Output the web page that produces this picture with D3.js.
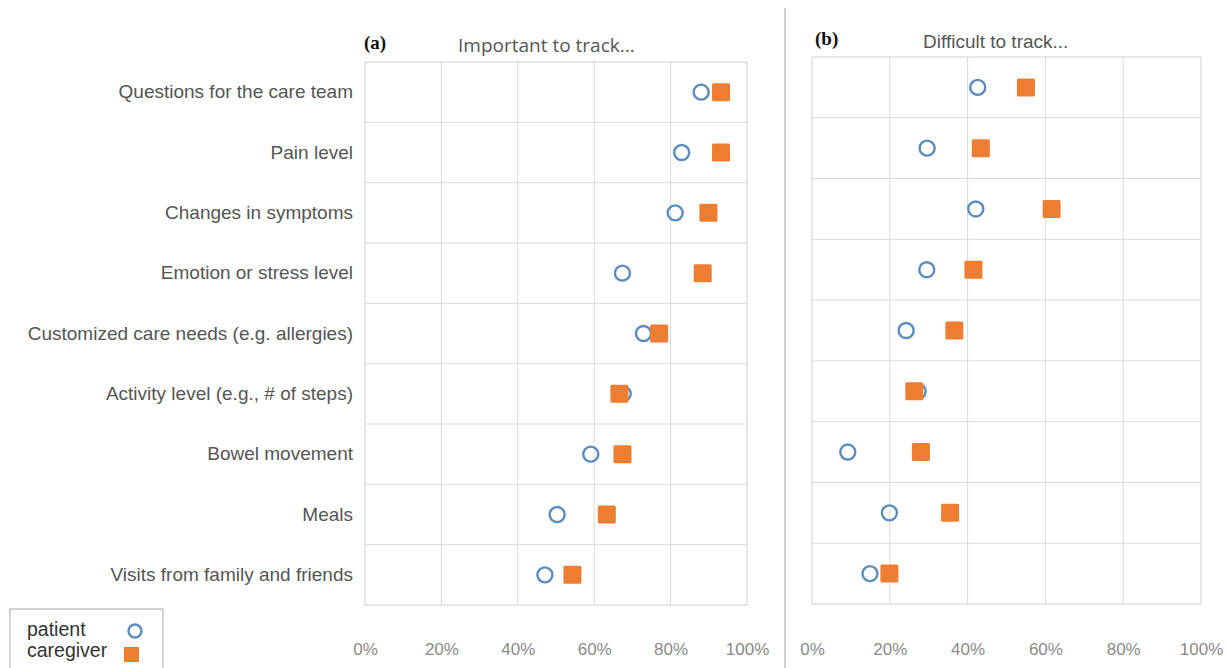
<!DOCTYPE html>
<html>
<head>
<meta charset="utf-8">
<script src="https://cdn.jsdelivr.net/npm/d3@7"></script>
<style>
  html, body { margin: 0; padding: 0; background: #fff; }
  svg { display: block; }
</style>
</head>
<body>
<svg id="chart" width="1229" height="668"></svg>
<script>
// Items asked about, top to bottom
const categories = [
  "Questions for the care team",
  "Pain level",
  "Changes in symptoms",
  "Emotion or stress level",
  "Customized care needs (e.g. allergies)",
  "Activity level (e.g., # of steps)",
  "Bowel movement",
  "Meals",
  "Visits from family and friends"
];

// (a) share rating each item important to track (%)
const importantPatient   = [88.0, 82.9, 81.2, 67.4, 72.9, 67.6, 59.1, 50.3, 47.1];
const importantCaregiver = [93.2, 93.2, 89.9, 88.4, 77.0, 66.6, 67.4, 63.3, 54.3];

// (b) share rating each item difficult to track (%)
const difficultPatient   = [42.6, 29.6, 42.1, 29.5, 24.2, 27.3, 9.2, 19.9, 14.9];
const difficultCaregiver = [55.0, 43.4, 61.6, 41.5, 36.6, 26.3, 28.0, 35.5, 19.9];

const tickValues = [0, 20, 40, 60, 80, 100];
const seriesNames = ["patient", "caregiver"];

const colors = { patient: "#5b8cc0", caregiver: "#ed7d31" };
const gridColor = "#d9d9d9";

const svg = d3.select("#chart");

function drawPanel(opts) {
  const { x0, x1, y0, y1, letter, title, titleFont, titleX, titleY, letterX, letterY,
          patient, caregiver, showLabels } = opts;

  const x = d3.scaleLinear().domain([0, 100]).range([x0, x1]);
  const y = d3.scaleBand().domain(categories).range([y0, y1]).padding(0);

  const g = svg.append("g");

  // horizontal row separators
  g.selectAll("line.h")
    .data(categories.slice(1))
    .enter().append("line")
    .attr("x1", x0).attr("x2", x1)
    .attr("y1", d => y(d)).attr("y2", d => y(d))
    .attr("stroke", gridColor).attr("stroke-width", 1);

  // vertical gridlines
  g.selectAll("line.v")
    .data(tickValues.slice(1, -1))
    .enter().append("line")
    .attr("x1", d => x(d)).attr("x2", d => x(d))
    .attr("y1", y0).attr("y2", y1)
    .attr("stroke", gridColor).attr("stroke-width", 1);

  // plot frame
  g.append("rect")
    .attr("x", x0).attr("y", y0)
    .attr("width", x1 - x0).attr("height", y1 - y0)
    .attr("fill", "none").attr("stroke", "#d0d0d0").attr("stroke-width", 1);

  // x axis labels
  const xAxis = d3.axisBottom(x)
    .tickValues(tickValues)
    .tickFormat(d => d + "%")
    .tickSize(0)
    .tickPadding(0);
  const ax = g.append("g")
    .attr("transform", `translate(0, 641)`)
    .call(xAxis);
  ax.select(".domain").remove();
  ax.selectAll("text")
    .attr("dy", "0.8em")
    .attr("fill", "#8a8a8a")
    .style("font-family", "'Liberation Sans', Arial, sans-serif")
    .style("font-size", "17px");

  // category labels
  if (showLabels) {
    const yAxis = d3.axisLeft(y).tickSize(0).tickPadding(0);
    const ay = g.append("g")
      .attr("transform", `translate(${x0 - 12}, 0)`)
      .call(yAxis);
    ay.select(".domain").remove();
    ay.selectAll("text")
      .attr("fill", "#555")
      .style("font-family", "'Liberation Sans', Arial, sans-serif")
      .style("font-size", "19px");
  }

  // patient circles (drawn first, squares sit on top)
  g.selectAll("circle.pt")
    .data(categories.map((c, i) => ({ c, v: patient[i] })))
    .enter().append("circle")
    .attr("cx", d => x(d.v))
    .attr("cy", d => y(d.c) + y.bandwidth() / 2)
    .attr("r", 7.5)
    .attr("fill", "none")
    .attr("stroke", colors.patient)
    .attr("stroke-width", 2.4);

  // caregiver squares
  const sq = 18;
  g.selectAll("rect.cg")
    .data(categories.map((c, i) => ({ c, v: caregiver[i] })))
    .enter().append("rect")
    .attr("x", d => x(d.v) - sq / 2)
    .attr("y", d => y(d.c) + y.bandwidth() / 2 - sq / 2)
    .attr("width", sq).attr("height", sq)
    .attr("rx", 1.5)
    .attr("fill", colors.caregiver);

  // panel letter and title
  svg.append("text")
    .attr("x", letterX).attr("y", letterY)
    .attr("fill", "#111")
    .style("font-family", "'Liberation Serif', 'Times New Roman', serif")
    .style("font-weight", "bold")
    .style("font-size", "19px")
    .text(letter);

  svg.append("text")
    .attr("x", titleX).attr("y", titleY)
    .attr("fill", "#555")
    .style("font-family", titleFont)
    .style("font-size", "19px")
    .text(title);
}

drawPanel({
  x0: 365, x1: 747, y0: 62, y1: 605,
  letter: "(a)", letterX: 364, letterY: 49,
  title: "Important to track...", titleFont: "'Open Sans', sans-serif",
  titleX: 458, titleY: 52,
  patient: importantPatient, caregiver: importantCaregiver,
  showLabels: true
});

drawPanel({
  x0: 812, x1: 1201, y0: 57, y1: 604,
  letter: "(b)", letterX: 815, letterY: 45,
  title: "Difficult to track...", titleFont: "'Liberation Sans', Arial, sans-serif",
  titleX: 923, titleY: 48,
  patient: difficultPatient, caregiver: difficultCaregiver,
  showLabels: false
});

// divider between the two panels
svg.append("line")
  .attr("x1", 785).attr("x2", 785)
  .attr("y1", 8).attr("y2", 668)
  .attr("stroke", "#cfcfcf").attr("stroke-width", 2);

// legend
const legend = svg.append("g");
legend.append("rect")
  .attr("x", 10).attr("y", 609)
  .attr("width", 153).attr("height", 70)
  .attr("fill", "#fff").attr("stroke", "#a6a6a6").attr("stroke-width", 1);

const legendRows = legend.selectAll("g.row")
  .data(seriesNames)
  .enter().append("g")
  .attr("transform", (d, i) => `translate(0, ${i * 21})`);

legendRows.append("text")
  .attr("x", 27).attr("y", 636)
  .attr("fill", "#333")
  .style("font-family", "'Liberation Sans', Arial, sans-serif")
  .style("font-size", "19.5px")
  .text(d => d);

legendRows.filter(d => d === "patient").append("circle")
  .attr("cx", 135).attr("cy", 631)
  .attr("r", 6.5)
  .attr("fill", "none")
  .attr("stroke", colors.patient)
  .attr("stroke-width", 2.4);

legendRows.filter(d => d === "caregiver").append("rect")
  .attr("x", 124).attr("y", 626)
  .attr("width", 15).attr("height", 15)
  .attr("fill", colors.caregiver);
</script>
</body>
</html>
